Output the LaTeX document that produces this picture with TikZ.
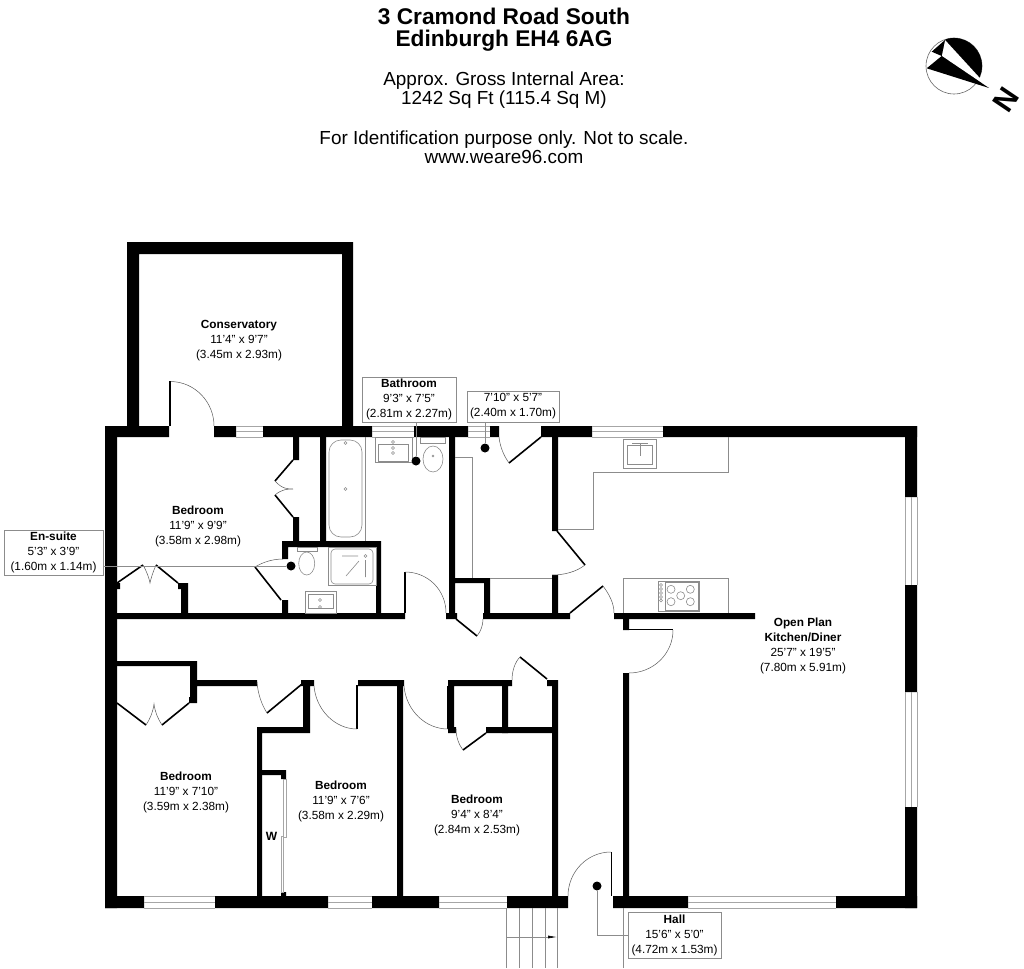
\documentclass[tikz,border=0pt]{standalone}
\usepackage{fontspec}
\setmainfont{Liberation Sans}
\usetikzlibrary{arrows.meta}
\tikzset{
    wall/.style={fill=black},
    leaf/.style={line width=1.6pt},
    swing/.style={line width=0.5pt, black!65},
    fixture/.style={line width=0.6pt, black!45},
    glass/.style={line width=0.7pt, black!35},
    roomlabel/.style={align=center, font=\fontsize{11.8}{15}\selectfont},
    tagbox/.style={roomlabel, draw=black!45, fill=white, line width=0.5pt, inner sep=0pt},
    lowered/.style={execute at begin node=\rule{0pt}{11pt}},
    spot/.style={circle, fill=black, inner sep=0pt, minimum size=9pt},
}

\begin{document}
\begin{tikzpicture}[x=1pt, y=-1pt]
    \useasboundingbox (0,0) rectangle (1024,968);

    % Heading
    \node[align=center, font=\fontsize{22.7}{22}\selectfont\bfseries] (title) at (504,29.5) {3 Cramond Road South\\Edinburgh EH4 6AG};
    \node[align=center, font=\fontsize{18.9}{19}\selectfont] (area) at (504,90.5) {Approx. Gross Internal Area:\\1242 Sq Ft (115.4 Sq M)};
    \node[align=center, font=\fontsize{18.9}{19}\selectfont] (scale) at (504,147) {For Identification purpose only. Not to scale.\\www.weare96.com};

    % Compass
    \draw[line width=0.6pt, black!60] (954,66) circle (28);
    \begin{scope}
        \clip (954,66) circle (28);
        \fill (945,40) -- (960,30) -- (995,50) -- (989,88) -- (941.7,56) -- cycle;
    \end{scope}
    \fill[white] (945,40) -- (941.7,56) -- (989,88) -- cycle;
    \fill (926.7,68.3) -- (941.7,56) -- (989,88) -- cycle;
    \fill (931.7,51.7) -- (945,40) -- (941.7,56) -- cycle;
    \node[rotate=56, inner sep=0pt, font=\fontsize{30}{30}\selectfont\bfseries] (north) at (1006,100) {N};

    % Conservatory walls
    \fill[wall] (127,242) rectangle (353,254) (127,242) rectangle (139,426) (342,242) rectangle (353,426);

    % Outer walls
    \fill[wall] (105,426) rectangle (117,908) (905,426) rectangle (917,497) (905,585) rectangle (917,692) (905,807) rectangle (917,908);
    \fill[wall] (105,426) rectangle (169,437) (214,426) rectangle (236,437) (263,426) rectangle (372,437)
        (414,426) rectangle (468,437) (490,426) rectangle (499,437) (541,426) rectangle (592,437) (663,426) rectangle (917,437);
    \fill[wall] (105,896) rectangle (144,908) (215,896) rectangle (328,908) (372,896) rectangle (439,908)
        (507,896) rectangle (568,908) (613,896) rectangle (688,908) (836,896) rectangle (917,908);

    % Windows
    \draw[glass] (236,426) -- (263,426) (236,431.5) -- (263,431.5) (236,437) -- (263,437);
    \draw[glass] (372,426) -- (414,426) (372,431.5) -- (414,431.5) (372,437) -- (414,437);
    \draw[glass] (468,426) -- (490,426) (468,431.5) -- (490,431.5) (468,437) -- (490,437);
    \draw[glass] (592,426) -- (663,426) (592,431.5) -- (663,431.5) (592,437) -- (663,437);
    \draw[glass] (144,896) -- (215,896) (144,902) -- (215,902) (144,908) -- (215,908);
    \draw[glass] (328,896) -- (372,896) (328,902) -- (372,902) (328,908) -- (372,908);
    \draw[glass] (439,896) -- (507,896) (439,902) -- (507,902) (439,908) -- (507,908);
    \draw[glass] (688,896) -- (836,896) (688,902) -- (836,902) (688,908) -- (836,908);
    \draw[glass] (905,497) -- (905,585) (911,497) -- (911,585) (917,497) -- (917,585);
    \draw[glass] (905,692) -- (905,807) (911,692) -- (911,807) (917,692) -- (917,807);

    % Walls above the corridor
    \fill[wall] (117,613) rectangle (405,619) (446,613) rectangle (457,619) (483,613) rectangle (570,619) (614,613) rectangle (755,619);
    \fill[wall] (293,437) rectangle (299,460) (293,517) rectangle (299,541) (320,437) rectangle (326,541);
    \fill[wall] (282,541) rectangle (381,547) (376,541) rectangle (381,613) (282,541) rectangle (288,559) (282,600) rectangle (288,613);
    \fill[wall] (181,583) rectangle (188,613) (178,583) rectangle (188,589) (117,583) rectangle (120,589);
    \fill[wall] (449,437) rectangle (455,613) (455,578) rectangle (490,583) (484,578) rectangle (490,613);
    \fill[wall] (552,437) rectangle (558,531) (552,575) rectangle (558,613);
    \fill[wall] (623,619) rectangle (629,630) (623,673) rectangle (629,896);

    % Walls below the corridor
    \fill[wall] (117,661) rectangle (197,666) (190,661) rectangle (197,703) (189,697) rectangle (197,703) (197,680) rectangle (257,686);
    \fill[wall] (301,680) rectangle (314,686) (303,680) rectangle (310,733) (257,727) rectangle (310,733) (257,727) rectangle (262,896);
    \fill[wall] (262,770) rectangle (286,775) (281,770) rectangle (286,779) (281,892) rectangle (286,896);
    \fill[wall] (358,680) rectangle (404,686) (397,680) rectangle (403,896);
    \fill[wall] (448,680) rectangle (512,686) (448,680) rectangle (454,733) (449,727) rectangle (456,733) (502,686) rectangle (508,733);
    \fill[wall] (486,727) rectangle (558,733) (547,680) rectangle (558,686) (552,680) rectangle (558,896);

    % Doors
    \draw[leaf] (170,381) -- (170,426);
    \draw[swing] (171,381.5) .. controls (195,382) and (214,402) .. (214,426);
    \draw[leaf] (405,572) -- (405,613);
    \draw[swing] (405,572) .. controls (428,572) and (446,590) .. (446,613);
    \draw[leaf] (456,619) -- (477,636);
    \draw[swing] (477,636) .. controls (481,631) and (483,625) .. (483,619);
    \draw[leaf] (541,437) -- (509,463);
    \draw[swing] (499,437) .. controls (500,447) and (504,456) .. (509,463);
    \draw[leaf] (557,531) -- (585,565);
    \draw[swing] (585,565) .. controls (576,572) and (564,575) .. (552,575);
    \draw[leaf] (570,613) -- (603,586);
    \draw[swing] (603,586) .. controls (609,594) and (614,603) .. (614,613);
    \draw[leaf] (629,629.5) -- (673,629.5);
    \draw[swing] (673,630) .. controls (673,654) and (653,673) .. (629,673);
    \draw[leaf] (281,600) -- (255,567);
    \draw[swing] (255,567) .. controls (263,562) and (273,559) .. (283,559);
    \draw[leaf] (267,713) -- (302,684);
    \draw[swing] (257,682) .. controls (258,695) and (262,705) .. (267,713);
    \draw[leaf] (357,685) -- (357,729);
    \draw[swing] (314,686) .. controls (316,710) and (335,729) .. (357,729);
    \draw[leaf] (448,686) -- (448,729);
    \draw[swing] (404,686) .. controls (406,710) and (425,729) .. (448,729);
    \draw[leaf] (486,733) -- (463,750);
    \draw[swing] (463,750) .. controls (459,745) and (456,737) .. (456,729);
    \draw[leaf] (547,679) -- (520,657);
    \draw[swing] (520,657) .. controls (515,662) and (512,671) .. (512,680);
    \draw[leaf] (611.5,852) -- (611.5,896);
    \draw[swing] (611,852) .. controls (587,852) and (568,872) .. (568,896);

    % Folding wardrobe doors
    \draw[leaf] (293,460) -- (275,481) (275,495) -- (293,517);
    \draw[swing] (275,481) .. controls (282,489) and (288,489) .. (293,489) .. controls (288,489) and (282,489) .. (275,495);
    \draw[leaf] (117,583) -- (143,565) (156,565) -- (178,583);
    \draw[swing] (143,565) .. controls (147,572) and (149,578) .. (150,583) .. controls (151,578) and (153,572) .. (156,565);
    \draw[leaf] (117,703) -- (146,725) (162,725) -- (189,703);
    \draw[swing] (146,725) .. controls (150,719) and (153,712) .. (154,704) .. controls (155,712) and (158,719) .. (162,725);

    % Sliding wardrobe door
    \draw[glass] (283,779) rectangle (286,837) (281,836) rectangle (283.5,892);

    % Bath and bathroom fittings
    \draw[fixture] (365,437) -- (365,541);
    \draw[fixture, rounded corners=12pt] (329,440) rectangle (362,537);
    \draw[fixture] (345.5,443) circle (1.5) (345.5,489) circle (1.5);
    \draw[fixture] (375,437) rectangle (412,462) (378,444) rectangle (408,461);
    \draw[fixture] (393,442) circle (1.5) (393,448) circle (1.5) (393,453) circle (1.5);
    \draw[fixture] (420,437) rectangle (445,443);
    \draw[fixture] (433,459) ellipse (10 and 13);
    \draw[fixture] (433,456) circle (1);

    % En-suite fittings
    \draw[fixture] (297,547) rectangle (317,551);
    \draw[fixture] (306.7,563.5) ellipse (8 and 11.5);
    \draw[fixture] (328,547) rectangle (376,585);
    \draw[fixture, rounded corners=4pt] (331,549) rectangle (373,584);
    \draw[fixture] (342,556) -- (358,556) (346,576) -- (359,561) (365.5,560) -- (365.5,577);
    \draw[fixture] (365.5,556) circle (1.5);
    \draw[fixture] (305,591) rectangle (336,613) (308,594) rectangle (333,608);
    \draw[fixture] (320,600) circle (1.5) (320,607) circle (1.5);

    % Kitchen units, sink and hob
    \draw[fixture] (558,529) -- (593,529) -- (593,472) -- (728,472) -- (728,437);
    \draw[fixture] (623,613) -- (623,578) -- (728,578) -- (728,613);
    \draw[fixture] (623,439) rectangle (656,468) (627,445) rectangle (652,464);
    \draw[fixture] (640,443) -- (640,456) (632,443) -- (648,443);
    \draw[fixture] (658,581) rectangle (699,611) (665,582) rectangle (698,610);
    \draw[fixture] (671,589.3) circle (4) (690.3,589.3) circle (4) (680.7,595.7) circle (4) (671,601.7) circle (4) (690.3,601.7) circle (4);
    \draw[fixture] (661,585) circle (1.5) (661,589) circle (1.5) (661,593) circle (1.5) (661,597) circle (1.5) (661,600.5) circle (1.5);

    % Unit in the hall
    \draw[fixture] (455,457) -- (472,457) -- (472,578) (490,578) -- (552,578);

    % Steps at the front door
    \draw[fixture] (506,908) -- (506,968) (519,908) -- (519,968) (532,908) -- (532,968) (545,908) -- (545,968) (557,908) -- (557,968);
    \draw[fixture] (623,908) -- (623,968);
    \draw[fixture, -{Latex[length=9pt, width=3pt, black]}] (506,937) -- (557,937);

    % Markers
    \node[spot] (ensuitespot) at (291,566) {};
    \node[spot] (bathspot) at (416,461) {};
    \node[spot] (hallspot) at (485,448) {};
    \node[spot] (frontspot) at (597,886) {};

    % Room names with a box
    \node[tagbox, minimum width=94pt, minimum height=45pt] (bathroom) at (409,399.5) {\textbf{Bathroom}\\9'3" x 7'5"\\(2.81m x 2.27m)};
    \node[tagbox, lowered, minimum width=92pt, minimum height=31pt] (innerhall) at (513,406.5) {7'10" x 5'7"\\(2.40m x 1.70m)};
    \node[tagbox, lowered, minimum width=99pt, minimum height=45pt] (ensuite) at (53.5,552.5) {\textbf{En-suite}\\5'3" x 3'9"\\(1.60m x 1.14m)};
    \node[tagbox, lowered, minimum width=93pt, minimum height=46pt] (hall) at (674.5,935) {\textbf{Hall}\\15'6" x 5'0"\\(4.72m x 1.53m)};

    % Leader lines
    \draw[fixture] (bathroom.south -| bathspot) -- (bathspot);
    \draw[fixture] (innerhall.south -| hallspot) -- (hallspot);
    \draw[fixture] (ensuite.east |- ensuitespot) -- (ensuitespot);
    \draw[fixture] (frontspot) |- (hall.west);

    % Room names
    \node[roomlabel] (conservatory) at (239,341) {\textbf{Conservatory}\\11'4" x 9'7"\\(3.45m x 2.93m)};
    \node[roomlabel] (bedone) at (198,526) {\textbf{Bedroom}\\11'9" x 9'9"\\(3.58m x 2.98m)};
    \node[roomlabel] (kitchen) at (803,645.5) {\textbf{Open Plan}\\\textbf{Kitchen/Diner}\\25'7" x 19'5"\\(7.80m x 5.91m)};
    \node[roomlabel] (bedtwo) at (186,792) {\textbf{Bedroom}\\11'9" x 7'10"\\(3.59m x 2.38m)};
    \node[roomlabel] (bedthree) at (341,801) {\textbf{Bedroom}\\11'9" x 7'6"\\(3.58m x 2.29m)};
    \node[roomlabel] (bedfour) at (477,815) {\textbf{Bedroom}\\9'4" x 8'4"\\(2.84m x 2.53m)};
    \node[roomlabel, font=\fontsize{12}{15}\selectfont\bfseries] (robe) at (271.5,836) {W};
\end{tikzpicture}
\end{document}
